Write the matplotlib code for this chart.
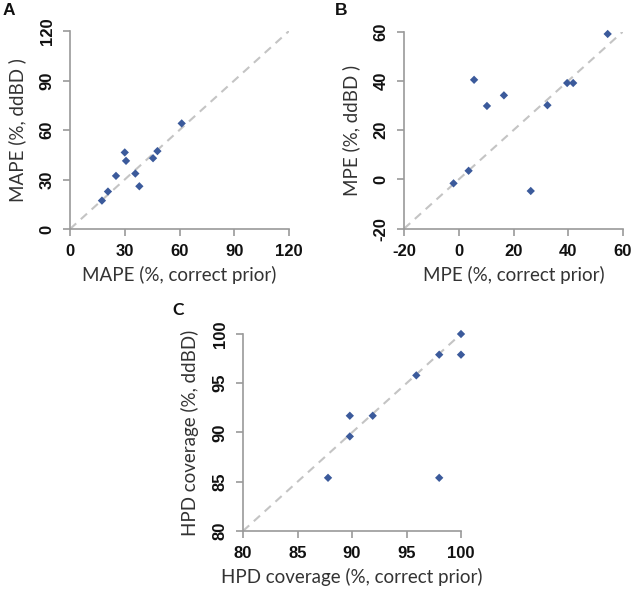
import matplotlib
matplotlib.use("Agg")
import matplotlib.pyplot as plt

# Panel A: MAPE
mape_correct = [17.5, 20.8, 25.2, 30.0, 30.7, 35.8, 38.0, 45.5, 47.9, 61.2]
mape_ddbd = [17.2, 22.7, 32.2, 46.4, 41.3, 33.6, 25.9, 42.9, 47.2, 64.0]
mape_ticks = [0, 30, 60, 90, 120]

# Panel B: MPE
mpe_correct = [-1.9, 3.6, 5.6, 10.3, 16.5, 26.3, 32.4, 39.6, 41.8, 54.4]
mpe_ddbd = [-1.6, 3.5, 40.4, 29.8, 34.1, -4.7, 30.1, 39.1, 39.1, 59.0]
mpe_ticks = [-20, 0, 20, 40, 60]

# Panel C: HPD coverage
hpd_correct = [87.8, 89.8, 89.8, 91.9, 95.9, 98.0, 98.0, 100.0, 100.0]
hpd_ddbd = [85.4, 89.6, 91.7, 91.7, 95.8, 97.9, 85.4, 100.0, 97.9]
hpd_ticks = [80, 85, 90, 95, 100]

W, H = 631, 589
fig = plt.figure(figsize=(W / 100, H / 100), dpi=100)

POINT_COLOR = "#3B5A9B"
AXIS_COLOR = "#9A9A9A"
LINE_COLOR = "#C4C4C4"
LABEL_FONT = "Lato"
TICK_FONT = "Liberation Sans"


def ax_rect(l, r, t, b):
    return [l / W, (H - b) / H, (r - l) / W, (b - t) / H]


def panel(rect, xs, ys, ticks, xlabel, ylabel, letter, letter_xy, letter_font):
    ax = fig.add_axes(rect)
    lo, hi = ticks[0], ticks[-1]
    ax.plot([lo, hi], [lo, hi], linestyle=(0, (4, 3)), color=LINE_COLOR, lw=1.5, zorder=1)
    ax.scatter(xs, ys, marker="D", s=18, color=POINT_COLOR, edgecolors="none", zorder=3, clip_on=False)
    ax.set_xlim(lo, hi)
    ax.set_ylim(lo, hi)
    ax.set_xticks(ticks)
    ax.set_yticks(ticks)
    ax.set_xticklabels([str(t) for t in ticks], fontfamily=TICK_FONT, fontweight="bold", fontsize=12)
    ax.set_yticklabels([str(t) for t in ticks], fontfamily=TICK_FONT, fontweight="bold", fontsize=12,
                       rotation=90, va="center")
    for s in ["top", "right"]:
        ax.spines[s].set_visible(False)
    for s in ["left", "bottom"]:
        ax.spines[s].set_color(AXIS_COLOR)
        ax.spines[s].set_linewidth(1.2)
    ax.tick_params(direction="out", length=5, width=1.2, color=AXIS_COLOR, pad=6, labelcolor="#111111")
    ax.set_xlabel(xlabel, fontfamily=LABEL_FONT, fontsize=13.5, color="#333333", labelpad=5)
    ax.set_ylabel(ylabel, fontfamily=LABEL_FONT, fontsize=13.5, color="#333333", labelpad=10)
    fig.text(letter_xy[0] / W, 1 - letter_xy[1] / H, letter, fontfamily=letter_font,
             fontweight="bold", fontsize=12.5, ha="left", va="top", color="#111111")
    return ax


panel(ax_rect(70, 289, 31, 229), mape_correct, mape_ddbd, mape_ticks,
      "MAPE (%, correct prior)", "MAPE (%, ddBD )", "A", (3, 3), "Liberation Sans")
panel(ax_rect(404, 623, 31.5, 228.7), mpe_correct, mpe_ddbd, mpe_ticks,
      "MPE (%, correct prior)", "MPE (%, ddBD )", "B", (335, 3), "Liberation Sans")
panel(ax_rect(243, 461, 334, 531), hpd_correct, hpd_ddbd, hpd_ticks,
      "HPD coverage (%, correct prior)", "HPD coverage (%, ddBD)", "C", (172, 302), "Lato")

fig.savefig("out.png", dpi=100, facecolor="white")
